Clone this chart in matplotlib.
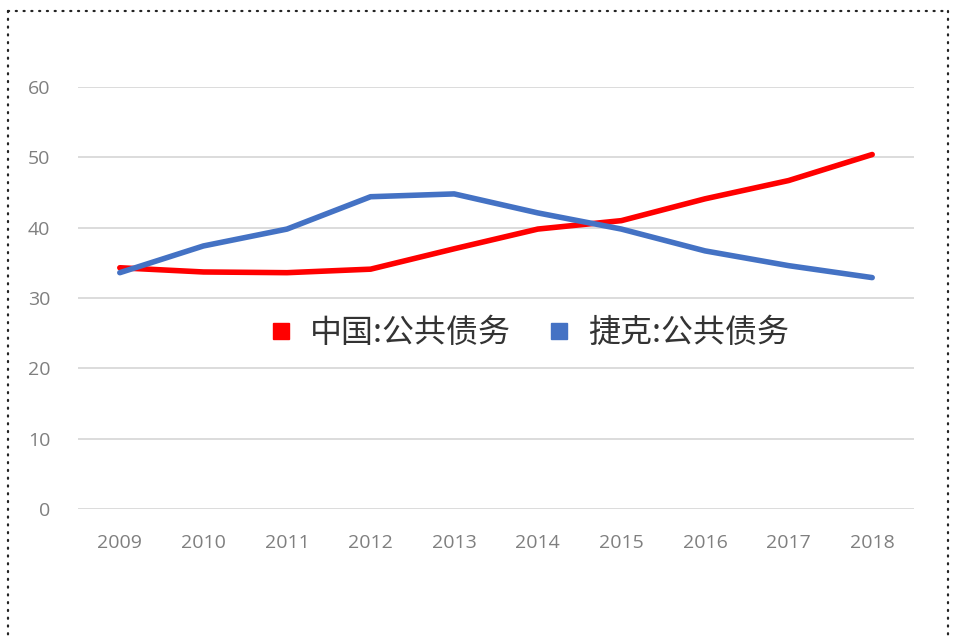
import matplotlib
matplotlib.use('Agg')
import matplotlib.pyplot as plt
from matplotlib.lines import Line2D

# data
years = ['2009', '2010', '2011', '2012', '2013', '2014', '2015', '2016', '2017', '2018']
china_debt = [34.3, 33.7, 33.6, 34.1, 37.0, 39.8, 41.0, 44.1, 46.7, 50.4]
czech_debt = [33.6, 37.4, 39.8, 44.4, 44.8, 42.1, 39.8, 36.7, 34.6, 32.9]
y_ticks = [0, 10, 20, 30, 40, 50, 60]
series_names = ['中国:公共债务', '捷克:公共债务']


def main():
    plt.rcParams['font.family'] = ['Open Sans', 'DejaVu Sans']

    fig = plt.figure(figsize=(9.6, 6.37), dpi=100)
    ax = fig.add_axes([78 / 960, 128 / 637, 836 / 960, 422 / 637])

    x = list(range(len(years)))
    ax.plot(x, china_debt, color='#FF0000', lw=4.0, solid_capstyle='round',
            solid_joinstyle='round', zorder=3)
    ax.plot(x, czech_debt, color='#4472C4', lw=4.0, solid_capstyle='round',
            solid_joinstyle='round', zorder=3)

    ax.set_xlim(-0.5, len(years) - 0.5)
    ax.set_ylim(0, 60)
    ax.set_yticks(y_ticks)
    ax.set_xticks(x)
    ax.set_xticklabels(years)

    # light horizontal gridlines, no frame
    ax.grid(axis='y', color='#D9D9D9', lw=1.3)
    ax.set_axisbelow(True)
    for s in ax.spines.values():
        s.set_visible(False)
    ax.tick_params(length=0, labelsize=14, colors='#7F7F7F')
    ax.tick_params(axis='y', pad=20)
    ax.tick_params(axis='x', pad=18)

    # legend in the middle of the plot
    handles = [
        Line2D([], [], ls='none', marker='s', ms=11, color='#FF0000'),
        Line2D([], [], ls='none', marker='s', ms=11, color='#4472C4'),
    ]
    fig.legend(handles, series_names, loc='center',
               bbox_to_anchor=(527 / 960, (637 - 333) / 637), ncol=2,
               frameon=False, handletextpad=0.4, columnspacing=1.0,
               handlelength=1.0,
               prop={'family': ['Noto Sans CJK SC', 'DejaVu Sans'], 'size': 23},
               labelcolor='#333333')

    # dotted border round the chart (bottom edge sits off the canvas)
    border = dict(color='#222222', lw=1.6, ls=(0, (0.5, 3.0)),
                  dash_capstyle='round', transform=fig.transFigure)
    l, r, t = 8 / 960, 948 / 960, 1 - 11 / 637
    fig.add_artist(Line2D([l, r], [t, t], **border))
    fig.add_artist(Line2D([l, l], [t, -0.05], **border))
    fig.add_artist(Line2D([r, r], [t, -0.05], **border))

    fig.savefig('out.png', dpi=100)
    plt.close(fig)


if __name__ == "__main__":
    main()
